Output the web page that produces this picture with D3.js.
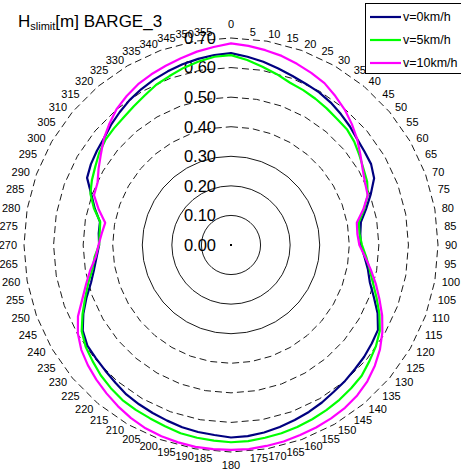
<!DOCTYPE html>
<html>
<head>
<meta charset="utf-8">
<script src="https://cdn.jsdelivr.net/npm/d3@7"></script>
<style>
  body { margin: 0; background: #fff; }
  svg { display: block; font-family: "Liberation Sans", Arial, sans-serif; }
</style>
</head>
<body>
<div id="container"></div>
<script>
/* DATA */
var angles = [0,5,10,15,20,25,30,35,40,45,50,55,60,65,70,75,80,85,
  90,95,100,105,110,115,120,125,130,135,140,145,150,155,160,165,170,175,
  180,185,190,195,200,205,210,215,220,225,230,235,240,245,250,255,260,265,
  270,275,280,285,290,295,300,305,310,315,320,325,330,335,340,345,350,355];

var v0 = [0.649,0.639,0.629,0.618,0.608,0.601,0.596,0.588,0.578,0.568,0.557,0.551,0.547,0.534,0.503,0.473,0.446,0.439,
  0.439,0.453,0.470,0.486,0.514,0.547,0.574,0.581,0.588,0.593,0.600,0.606,0.615,0.623,0.630,0.637,0.644,0.649,
  0.651,0.645,0.642,0.638,0.632,0.627,0.622,0.617,0.608,0.601,0.596,0.593,0.579,0.551,0.520,0.490,0.470,0.456,
  0.446,0.449,0.450,0.477,0.503,0.537,0.547,0.554,0.561,0.574,0.586,0.598,0.608,0.617,0.625,0.633,0.639,0.645];

var v5 = [0.642,0.628,0.612,0.598,0.584,0.578,0.571,0.564,0.557,0.554,0.544,0.530,0.517,0.508,0.492,0.466,0.439,0.436,
  0.443,0.459,0.476,0.497,0.524,0.554,0.581,0.598,0.611,0.625,0.632,0.639,0.645,0.650,0.655,0.659,0.662,0.666,
  0.667,0.664,0.662,0.659,0.652,0.647,0.644,0.640,0.632,0.623,0.611,0.600,0.583,0.554,0.525,0.500,0.476,0.463,
  0.446,0.446,0.449,0.480,0.506,0.519,0.530,0.544,0.554,0.559,0.564,0.573,0.584,0.598,0.608,0.620,0.630,0.639];

var v10 = [0.682,0.676,0.669,0.662,0.652,0.642,0.632,0.615,0.598,0.578,0.557,0.534,0.514,0.500,0.492,0.463,0.432,0.429,
  0.434,0.455,0.480,0.507,0.534,0.564,0.591,0.615,0.635,0.652,0.664,0.672,0.677,0.681,0.684,0.688,0.690,0.693,
  0.693,0.693,0.693,0.691,0.688,0.684,0.676,0.666,0.655,0.644,0.632,0.618,0.598,0.571,0.535,0.507,0.483,0.459,
  0.448,0.439,0.432,0.463,0.493,0.498,0.517,0.537,0.561,0.581,0.601,0.615,0.628,0.637,0.645,0.654,0.664,0.672];

var seriesNames = ["v=0km/h", "v=5km/h", "v=10km/h"];
var seriesColors = ["#000080", "#00ff00", "#ff00ff"];
var radialTicks = [0.1, 0.2, 0.3, 0.4, 0.5, 0.6, 0.7];
var radialLabels = ["0.00", "0.10", "0.20", "0.30", "0.40", "0.50", "0.60", "0.70"];

/* CONSTANTS */
var width = 461, height = 476,
    cx = 231, cy = 245;

var rScale = d3.scaleLinear().domain([0, 0.7]).range([0, 207]);
var aScale = d3.scaleLinear().domain([0, 360]).range([0, 2 * Math.PI]);

var svg = d3.select('#container').append('svg')
  .attr('width', width)
  .attr('height', height);

var g = svg.append('g').attr('transform', 'translate(' + cx + ',' + cy + ')');

/* GRID CIRCLES */
var circlePts = d3.range(0, 361, 10);
var circleLine = d3.lineRadial()
  .angle(function(d) { return aScale(d); });

g.selectAll('.grid').data(radialTicks)
  .enter().append('path')
    .attr('class', 'grid')
    .attr('d', function(t) {
      return circleLine.radius(rScale(t))(circlePts);
    })
    .attr('fill', 'none')
    .attr('stroke', '#000')
    .attr('stroke-width', 0.9)
    .attr('stroke-dasharray', function(t) { return t > 0.35 ? '7,4' : null; });

// center dot
g.append('rect').attr('x', -1).attr('y', -1).attr('width', 2).attr('height', 2).attr('fill', '#000');

/* RADIAL LABELS */
g.selectAll('.rlab').data(radialLabels)
  .enter().append('text')
    .attr('class', 'rlab')
    .attr('x', -15)
    .attr('y', function(d) { return -rScale(+d); })
    .attr('dy', '0.35em')
    .attr('text-anchor', 'end')
    .style('font-size', '16.5px')
    .text(function(d) { return d; });

/* ANGLE LABELS */
var labR = 214;
g.selectAll('.alab').data(angles)
  .enter().append('text')
    .attr('class', 'alab')
    .attr('x', function(d) { return labR * Math.sin(aScale(d)); })
    .attr('y', function(d) { return -labR * Math.cos(aScale(d)); })
    .attr('dy', function(d) {
      if (d === 0) return '-0.3em';
      if (d === 180) return '0.9em';
      return '0.35em';
    })
    .attr('text-anchor', function(d) {
      if (d === 0 || d === 180) return 'middle';
      return d < 180 ? 'start' : 'end';
    })
    .style('font-size', '11px')
    .text(function(d) { return d; });

/* SERIES */
var seriesData = [v0, v5, v10];
var line = d3.lineRadial()
  .angle(function(d, i) { return aScale(angles[i]); })
  .radius(function(d) { return rScale(d); })
  .curve(d3.curveLinearClosed);

g.selectAll('.series').data(seriesData)
  .enter().append('path')
    .attr('class', 'series')
    .attr('d', line)
    .attr('fill', 'none')
    .attr('stroke', function(d, i) { return seriesColors[i]; })
    .attr('stroke-width', 2.2)
    .attr('stroke-linejoin', 'round');

/* TITLE */
var title = svg.append('text').attr('x', 18).attr('y', 27).style('font-size', '17px');
title.append('tspan').text('H');
title.append('tspan').attr('dy', 3).style('font-size', '11px').text('slimit');
title.append('tspan').attr('dy', -3).text('[m] BARGE_3');

/* LEGEND */
var legend = svg.append('g');
legend.append('rect')
  .attr('x', 365.5).attr('y', 3.5)
  .attr('width', 110).attr('height', 70)
  .attr('fill', '#fff')
  .attr('stroke', '#000')
  .attr('stroke-width', 1);

var legY = d3.scalePoint().domain(seriesNames).range([17, 63]);
var items = legend.selectAll('.leg').data(seriesNames)
  .enter().append('g')
    .attr('transform', function(d) { return 'translate(0,' + legY(d) + ')'; });
items.append('line')
  .attr('x1', 370).attr('x2', 401)
  .attr('stroke', function(d, i) { return seriesColors[i]; })
  .attr('stroke-width', 2.2);
items.append('text')
  .attr('x', 403)
  .attr('dy', '0.35em')
  .style('font-size', '12.5px')
  .text(function(d) { return d; });
</script>
</body>
</html>
